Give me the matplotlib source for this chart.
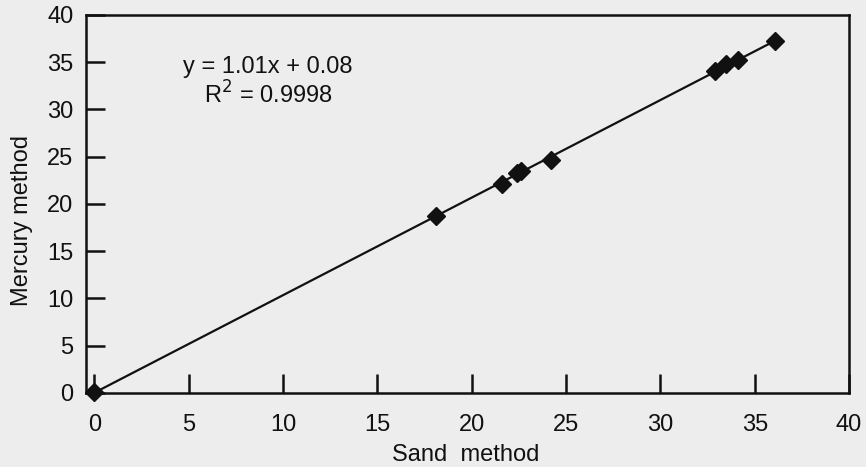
import numpy as np
import matplotlib
matplotlib.use('Agg')
import matplotlib.pyplot as plt

plt.rcParams['font.family'] = ['Liberation Sans', 'DejaVu Sans']

# sand method vs mercury method readings
sand = [0.0, 18.1, 21.6, 22.4, 22.6, 24.2, 32.9, 33.5, 34.1, 36.1]
mercury = [0.1, 18.7, 22.1, 23.3, 23.5, 24.7, 34.1, 34.8, 35.2, 37.2]
xticks = [0, 5, 10, 15, 20, 25, 30, 35, 40]
yticks = [0, 5, 10, 15, 20, 25, 30, 35, 40]
eq_text = 'y = 1.01x + 0.08\nR$^2$ = 0.9998'

bg = '#ededed'
fig = plt.figure(figsize=(8.66, 4.67), dpi=100, facecolor=bg)
ax = fig.add_axes([0.0993, 0.1585, 0.8811, 0.8095])
ax.set_facecolor(bg)

# trend line over the data range
k, b = np.polyfit(sand, mercury, 1)
xs = np.array([min(sand), max(sand)])
ax.plot(xs, k * xs + b, color='#111111', lw=1.6, zorder=2)
ax.plot(sand, mercury, 'D', color='#111111', markersize=9, zorder=3,
        clip_on=False)

ax.set_xlim(-0.45, 40)
ax.set_ylim(0, 40)
ax.set_xticks(xticks)
ax.set_yticks(yticks)
ax.tick_params(axis='both', direction='in', length=14, width=1.8,
               colors='#111111', labelsize=17)
ax.tick_params(axis='x', pad=15)
ax.tick_params(axis='y', pad=9)
for s in ax.spines.values():
    s.set_linewidth(1.8)
    s.set_color('#111111')

ax.text(9.2, 32.9, eq_text, ha='center', va='center', fontsize=17,
        color='#111111', linespacing=1.15)

ax.set_xlabel('Sand  method', fontsize=17, color='#111111')
ax.set_ylabel('Mercury method', fontsize=17, color='#111111')
ax.xaxis.set_label_coords(0.497, -0.135)
ax.yaxis.set_label_coords(-0.069, 0.457)

plt.savefig('out.png', dpi=100, facecolor=bg)
